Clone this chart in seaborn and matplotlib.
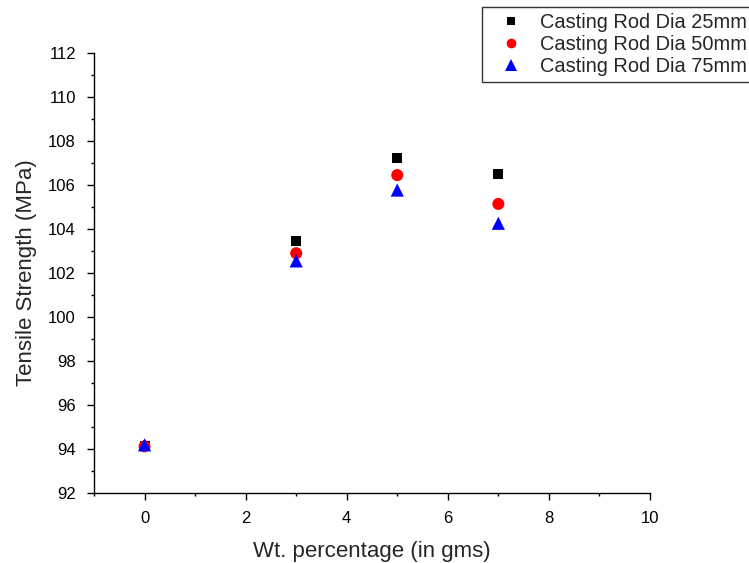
import matplotlib
matplotlib.use("Agg")
import matplotlib.pyplot as plt
import seaborn as sns
import pandas as pd
from matplotlib.ticker import MultipleLocator
from matplotlib.lines import Line2D

sns.set_style("ticks")
plt.rcParams['font.family'] = ['Liberation Sans', 'DejaVu Sans']

wt = [0, 3, 5, 7]
dia25 = [94.15, 103.45, 107.24, 106.5]
dia50 = [94.12, 102.9, 106.45, 105.14]
dia75 = [94.19, 102.55, 105.77, 104.26]
series_names = ["Casting Rod Dia 25mm", "Casting Rod Dia 50mm", "Casting Rod Dia 75mm"]

df = pd.DataFrame({
    "wt": wt * 3,
    "ts": dia25 + dia50 + dia75,
    "series": [series_names[0]] * 4 + [series_names[1]] * 4 + [series_names[2]] * 4,
})

colors = {series_names[0]: "black", series_names[1]: "red", series_names[2]: "blue"}
markers = {series_names[0]: "s", series_names[1]: "o", series_names[2]: "^"}
sizes = {series_names[0]: 52, series_names[1]: 75, series_names[2]: 90}

fig = plt.figure(figsize=(7.49, 5.63), dpi=100)
ax = fig.add_axes([0.1255, 0.1243, 0.8678 - 0.1255, 0.9059 - 0.1243])

sns.scatterplot(data=df, x="wt", y="ts", hue="series", style="series", size="series",
                palette=colors, markers=markers, sizes=sizes,
                edgecolor="none", linewidth=0, ax=ax, legend=False)

ax.set_xlim(-1, 10)
ax.set_ylim(92, 112)
ax.xaxis.set_major_locator(MultipleLocator(2))
ax.xaxis.set_minor_locator(MultipleLocator(1))
ax.yaxis.set_major_locator(MultipleLocator(2))
ax.yaxis.set_minor_locator(MultipleLocator(1))
ax.tick_params(which="major", direction="out", length=5, width=1, labelsize=12, colors="black", pad=8)
ax.tick_params(which="minor", direction="out", length=2.5, width=1, colors="black")
for s in ["top", "right"]:
    ax.spines[s].set_visible(False)
for s in ["left", "bottom"]:
    ax.spines[s].set_color("black")
    ax.spines[s].set_linewidth(1)

ax.set_xlabel("Wt. percentage (in gms)", fontsize=16, labelpad=11)
ax.set_ylabel("Tensile Strength (MPa)", fontsize=16, labelpad=8)

handles = [
    Line2D([], [], linestyle="none", marker="s", markersize=6, color="black", markeredgewidth=0),
    Line2D([], [], linestyle="none", marker="o", markersize=7, color="red", markeredgewidth=0),
    Line2D([], [], linestyle="none", marker="^", markersize=8, color="blue", markeredgewidth=0),
]
leg = fig.legend(handles, series_names, loc="upper left", bbox_to_anchor=(482 / 749, 1 - 7 / 563),
                 bbox_transform=fig.transFigure,
                 fontsize=14.4, frameon=True, fancybox=False, edgecolor="black",
                 borderpad=0.3, labelspacing=0.15, handlelength=2.3, handletextpad=0.3,
                 borderaxespad=0)
leg.get_frame().set_linewidth(1)

fig.savefig("out.png", dpi=100)
